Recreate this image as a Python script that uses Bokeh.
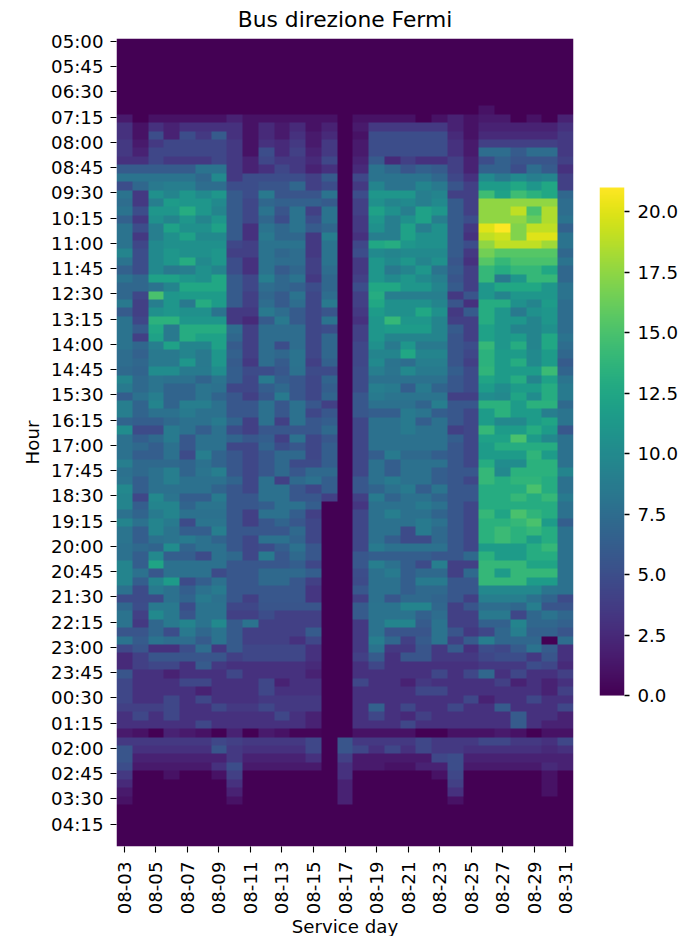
from bokeh.plotting import figure
from bokeh.layouts import row
from bokeh.models import LinearColorMapper, FixedTicker, PrintfTickFormatter, LinearAxis, Range1d
from bokeh.palettes import Viridis256
from bokeh.embed import file_html
from bokeh.resources import INLINE
import numpy as np
import math

DAYS = ["08-%02d" % d for d in range(3, 32)]
HOUR_LABELS = ["05:00","05:45","06:30","07:15","08:00","08:45","09:30","10:15","11:00","11:45","12:30","13:15","14:00","14:45","15:30","16:15","17:00","17:45","18:30","19:15","20:00","20:45","21:30","22:15","23:00","23:45","00:30","01:15","02:00","02:45","03:30","04:15"]
Z = [0]*29

VALUES = [
Z,Z,Z,Z,Z,Z,Z,Z,
[0,0,0,0,0,0,0,0,0,0,0,0,0,0,0,0,0,0,0,0,0,0,0,1,0,0,0,0,0],
[1.5,0,1,1,1,1,1,2,1,1,1,1,1,1,0,1,1,1,1,0,1,2,1,1.5,1.5,0,1,0,2],
[3,1,3,2,3,3,3,3,1,2.5,1.5,2.5,1,2,0,1.5,3.5,3.5,3.5,3.5,3.5,2,1,2,2,2,2,2,3],
[3,1,5,2,5,3.5,6,3,1,2.5,1.5,3,1.5,2.5,0,1,5,5,5,5,5,2.5,1,2.5,2.5,2.5,2.5,2.5,3.5],
[3.5,1.5,3.5,4.5,4.5,4.5,4.5,3.5,1,3,2.5,3.5,1.5,3.5,0,1.5,5,5,5,5,5,3,1.5,4,4,4,4,4,3.5],
[3.5,2,4.5,4.5,4.5,4.5,4.5,3.5,1,5,2.5,4,2,3.5,0,1.5,5,5,5,5,5,3,1.5,7.5,7.5,6,7.5,7.5,3.5],
[3,3,4.5,3.5,3.5,3.5,4.5,3.5,2,4.5,3.5,3.5,2.5,4.5,0,2,6,2.5,4,3,3,4,2,5,6.5,5.5,5.5,5.5,4],
[6,6,6,6,6,8,8,3.5,2,3,4.5,3.5,2,3,0,2.5,8,7,5.5,6.5,6,4,2,6.5,6.5,5,7.5,6,3],
[8,8,8,8,8,7,10,3.5,5,5,5,5,4,6,0,4.5,8,8,8,8,7,4.5,3,10,8.5,10,9,9.5,4],
[5,7,8.5,9,9,7.5,7.5,5,5,5.5,5.5,7,4,5,0,3.5,9.5,8,8,9.5,8.5,5.5,4,11.5,11.5,12.5,11,12.5,4],
[8,3.5,10.5,9.5,11,10,11,6,5,8.5,5.5,5.5,5.5,8,0,5,11,11,11,9,9.5,4,4,14.5,12,14.5,13.5,12.5,7],
[7.5,3.5,9,11.5,11,11,10,6,4.5,7,6.5,6.5,6.5,6,0,4,10.5,9.5,10,9,10,6,4,17.5,17.5,17.5,17.5,17.5,7.5],
[8,5,11,11,13,11,9.5,6,4.5,8,5.5,8,4,8,0,4,12,10.5,9,12,11,6,4,17.5,17.5,19,15,18.5,7.5],
[6.5,3.5,10.5,9.5,11,9.5,11,6,4.5,7,5,8,5,8,0,3.5,11,9,10.5,12,9,6,5,17.5,17.5,17.5,16,18.5,8],
[8,5,9,12,10.5,10.5,12,6,3,8,7,8,6,7,0,3.5,10.5,9,12,9,10.5,6,3.5,20,21,17,19,19,6.5],
[8,3.5,9,10.5,12,10,10,6,3,8.5,7,7,3.5,9,0,3,9,9,12,10.5,10.5,6,3,19,19.5,17,20,20,8],
[8,4.5,10,10.5,10.5,10.5,10.5,4.5,4,8,8,8,3.5,8,0,4.5,12.5,13,11,10.5,10.5,6,5,17.5,19,19,19,18,8],
[9.5,5,10,11,10.5,10.5,11,4,4,8,7,7.5,3.5,8,0,5,10,9.5,10,10,10,6,3.5,16.5,15.5,15.5,15.5,15.5,7],
[8,5,10,11,13,10,11,5,3,8,7.5,7.5,4,8,0,3.5,11,10,11,9.5,10.5,5.5,3,15.5,14,15,15,15,8],
[6.5,5,10,8.5,9,10.5,9.5,5,3,8,6,7,4,7.5,0,3.5,11,8.5,9.5,11,8,6,4,14,13,14,14,12.5,7],
[8,7,12,12,11,10.5,12.5,6,4.5,9,7,8,3.5,7,0,4,11,10,11,10,9,5.5,4,14,8.5,11,14,14,7],
[7,7,8,9.5,12.5,12.5,12.5,6,4.5,7.5,7,6.5,5,7,0,5,12.5,12.5,11,11,9.5,6,4,11,12.5,12.5,12.5,11,8],
[7,4.5,15,11,11.5,11.5,11.5,6,4,7,6,8,4.5,7.5,0,4,13,9,9,9,9,3.5,5.5,11,9.5,11,11,11,8],
[8.5,4,9,11,8.5,13,11.5,6,4,7.5,6,7.5,4.5,8.5,0,4,12.5,10.5,10.5,10.5,9.5,5.5,3,13,13,10.5,9.5,11.5,7.5],
[6,4,10.5,11,10.5,10.5,8,3.5,3.5,8.5,7.5,6,4.5,5.5,0,3.5,11.5,10.5,10.5,12.5,10.5,3.5,6,13,11,8.5,10.5,11,7.5],
[8,4.5,13.5,13.5,11,11,11,3.5,2.5,6,8.5,6,4.5,8,0,3,11,14,11,11,9.5,4,4,13,11,11,9.5,11,7.5],
[8,6,12.5,8.5,13,13,13,7.5,4,7.5,7.5,7.5,4.5,5,0,4,11,11.5,11.5,11.5,9.5,6,4,12,11,9.5,9.5,10.5,7.5],
[8,4,12,8.5,13,12,12,7,4,7.5,7.5,7.5,4.5,7,0,4,11,9.5,9.5,9.5,9.5,5.5,4,12,11,11.5,9.5,12.5,8],
[8,7,9,12,9.5,9.5,12,6,4,7.5,5,7.5,4.5,7,0,4.5,10.5,8.5,11,8.5,8.5,5.5,5,14,11,13,9.5,12.5,7.5],
[7.5,6.5,8.5,8.5,9.5,8.5,11,6.5,4,7.5,7,8,4.5,7,0,4.5,9.5,9.5,12.5,9.5,9.5,5.5,4.5,13.5,11.5,11.5,10,11.5,7],
[7.5,7,8.5,8.5,11,8.5,11,6,3.5,7.5,6,8,4,6.5,0,4.5,10,8,7.5,9,9,5.5,4,13.5,11.5,13,10,11.5,6],
[7.2,6.8,10.2,10.2,8.6,8.6,10.2,6.3,4.8,5,5.7,7.8,4.8,4.8,0,4.8,9,8.1,9.8,8.6,8.6,6.3,4.8,13.7,11.5,11.5,11.5,14.3,6.8],
[9.5,7.2,8.1,7.8,7.8,6.8,8.1,6.3,4.5,8.6,6.3,5.7,4.5,6.8,0,4.8,7.8,7.8,7.8,7.8,7.8,5.7,4.8,12.3,11.5,13,9.5,12,8.1],
[8.6,7.2,8.1,6.8,6.8,8.1,7.8,4.5,4.5,6.3,7.2,5.7,4.5,6.3,0,4.8,9,8.6,6.3,8.6,6.8,5.7,4.8,11.5,10.2,11.5,11.5,13,8.6],
[6.3,7.8,9,6.8,6.8,8.1,6.8,5.7,4,5.7,8.6,5.7,4.5,6.8,0,5.7,8.6,8.1,8.1,8.1,8.1,4,4,10.2,9.8,12.3,10.2,13,8.6],
[9,6.8,9.5,6.8,9,9,7.8,5.7,5.7,7.8,5.7,7.8,5.7,4,0,5.7,7.8,7.8,7.8,6.8,9,5.7,5.7,13.4,13.4,11.5,13.4,13.4,7.2],
[9,6.8,7.8,7.8,8.6,7.8,7.8,5.7,5.7,7.8,5.7,7.8,4.5,5.7,0,5.7,6.3,6.3,8.6,8.1,6.3,5.7,4.5,11.5,13.4,11.5,11.5,9,8.1],
[6.8,6.3,6.3,7.2,7.8,7.8,8.6,6.8,4,7.8,4,7.8,5.7,6.3,0,4.5,7.8,7.8,8.6,6.3,7.8,5.7,4.5,11.5,9.8,9.8,11.5,12.3,8.1],
[10.2,4.8,4.8,8.6,7.8,6.3,7.8,5,4,5.7,5.7,5.7,5.7,7.2,0,4.5,7.8,7.8,8.6,7.8,7.8,4,4.5,14,11.5,11.5,13,11.5,5.7],
[7.8,6.3,7.2,8.6,5.7,7.8,7.8,6.8,5.7,6.3,4,7.8,4.5,5.7,0,4.5,7.8,7.8,7.8,7.8,7.8,6.3,4.5,12,12,15,11.5,9.8,7.8],
[7.8,7.2,6.3,7.8,5.7,7.8,7.8,4.5,4.5,6.8,5,5.7,4.5,6.3,0,4.5,7.8,7.8,7.8,7.8,7.8,5.7,4.5,11.5,13,13,13,13,7.8],
[7.8,6.3,6.3,7.8,4.8,9,6.8,5.7,4.5,5.7,7.2,7.2,4.5,6.3,0,4.5,6.3,8.6,7.2,7.2,6.3,5.7,4.5,11.5,11.5,11.5,13.7,11.5,7.8],
[9,7.2,7.2,7.2,6.8,7.8,6.8,5.7,4.5,5.7,7.2,4.8,4.8,6.3,0,4.5,7.8,6.3,7.8,7.8,7.8,5.7,4.5,13,10.2,10.2,13.4,13.4,7.8],
[7.8,7.2,7.8,9,6.8,8.1,9,5.7,4.5,5.7,7.2,5.7,7.2,7.2,0,4.5,7.8,6.3,7.8,7.8,6.3,5.7,5.7,14,9.8,13.4,13.4,13.4,9.5],
[8.1,6.3,7.8,9,7.8,7.8,7.8,6.8,4.5,7.8,4,7.2,7.8,6.3,0,5.7,7.8,8.6,7.8,7.8,6.3,5.7,4.5,14,13,13.7,13.7,13,7.8],
[9.8,6.3,7.8,7.8,7.8,7.8,6.8,5.7,4.5,7.8,7.8,5.7,4.5,6.3,0,5.7,6.8,7.8,8.6,6.3,8.1,5.7,5.7,13,13,13,15,13,7.8],
[9.5,4.5,9.8,8.1,6.3,6.3,8.6,5.7,5.7,7.8,7.8,5.7,5.7,4,0,4,8.6,6.8,7.8,7.8,6.8,5.7,5.7,13,13,14,13,14,8.6],
[9.5,6.3,9.5,9.5,6.8,8.1,8.1,5.7,5.7,6.3,7.8,7.8,6.3,0,0,3.3,7.8,7.8,7.8,8.6,7.8,5.7,4.5,13,13,13,13,13,7.8],
[7.8,6.8,8.6,9.5,7.8,7.8,7.8,5.7,4,7.8,7.8,6.3,4,0,0,4.5,7.8,9,7.8,7.8,6.8,5.7,4.5,14,12.3,15,13.7,13,7.8],
[9.5,7.8,9.5,8.6,4.8,8.1,8.1,5.7,4,5.7,6.8,5.7,4.5,0,0,4.5,7.8,7.8,7.8,8.6,7.8,5.7,4.5,13.4,13.4,14,15,11.5,6.3],
[8.1,6.3,9.5,8.1,6.3,6.3,9,5.7,5.7,5.7,5.7,7.2,4.5,0,0,4.5,7.8,7.8,4.8,8.6,7.2,5.7,4.5,13.4,14.3,13.4,14,13,7.8],
[8.1,6.3,7.8,8.1,8.6,7.8,6.8,5.7,4.5,7.8,7.8,6.8,4.5,0,0,4.5,7.8,6.3,4.8,4.8,7.2,5.7,4.5,13.4,14.3,13.4,11.5,13,7.8],
[7.8,7.2,6.8,10.2,6.8,7.8,7.8,5.7,4.5,5,6.3,7.8,5.7,0,0,4.5,8.6,7.8,7.8,7.8,7.8,5.7,4.5,11.5,11.5,11.5,13,14,7.8],
[7.8,6.3,9.8,6.3,6.3,4.8,7.8,7.2,4.5,8.6,5.7,7.2,5.7,0,0,5.7,6.3,6.3,6.3,6.3,5.7,5.7,7.2,13.4,11.5,11.5,13,13,7.8],
[9.5,6.3,12.3,7.8,7.8,7.8,7.8,5.7,5.7,5.7,5.7,6.3,4.5,0,0,5.7,9,7.8,6.3,4.8,9,4,4,14,14,14,12.3,12.3,7.8],
[9.5,7.8,5.7,7.8,7.8,7.8,4.8,5.7,5.7,7.2,7.2,7.2,6.3,0,0,5,7.8,8.6,6.3,7.2,7.2,4,7.2,14,11.5,14,14,14,7.8],
[9.5,6.3,9.5,11.5,4.8,6.3,7.8,5.7,5.7,7.2,7.2,5.7,4,0,0,4.8,7.8,7.8,6.3,8.6,8.6,5.7,5.7,14,14,14,11.5,11.5,7.8],
[7.8,4.8,8.6,7.8,6.3,7.8,8.6,5.7,5.7,5.7,5.7,5.7,3.3,0,0,5.7,7.8,7.8,6.3,7.2,7.2,5.7,5.7,9.8,9.8,9.8,9.8,8.1,7.8],
[4.8,4.8,4.8,7.8,6.8,8.6,7.8,5.7,4,5.7,5.7,5.7,3.3,0,0,4,7.8,5.7,7.2,7.2,6.8,5.7,4,9,9,9,7.8,6.8,4.8],
[7,5,8.5,8.5,5,8,8,4.5,4.5,5.5,5.5,5.5,5.5,0,0,6,8,8,9.5,9.5,7,4,5.5,7.5,7.5,7,9,5.5,5.5],
[8,4,10,8.5,5.5,8,8,4,4,5,4,4,4,0,0,6,8,8,8,6.5,7.5,4,4,8.5,8.5,4.5,7,8,7],
[8,3.5,7,8.5,9.5,8,10,6,8,4,4,4,4,0,0,3.5,8,9.5,9.5,6,8,4,4,6.5,6.5,9.5,7,7,6.5],
[5.5,5.5,7,5,8.5,7,8,6,4,4,4,4,6,0,0,3.5,8,5.5,5.5,5.5,8,5.5,3.5,4.5,7,9,6.5,6.5,5.5],
[8,6,8,7.5,7.5,6,8,6,4,4,4,3,4.5,0,0,3.5,9,7,4,6,8,4,6,9,7,7,7,0,7.5],
[4.5,5.5,3,3,5,7.5,3.5,6,4.5,4.5,4.5,4.5,3,0,0,3.5,8,3.5,3.5,5.5,3.5,6,3,5,4.5,6,8,6,3],
[2.5,4,5.5,5.5,5.5,5.5,5.5,4,4.5,4.5,4.5,4.5,3,0,0,4,6,3,5.5,5.5,3.5,3.5,3.5,4.5,5,5,3.5,5.5,3],
[2.5,4,4.5,4.5,3,6,3.5,3,3,3,3,3,2.5,0,0,3,4.5,3,3,3,3,3,3,3.5,3.5,3.5,5,4.5,2.5],
[5.5,3,3,2,3,3,3,4.5,3,3,3,3,2,0,0,3,3,3,3,3,4.5,3,4.5,7,3,4.5,3,3,4],
[4.5,3,3,3,4.5,4.5,3,3,3,4.5,2,3,3,0,0,4.5,3,3,2,3.5,3,3,3,3,4,2,3,2,3],
[4.5,3,3,3,3,2,3,3,3,4.5,3,3,3,0,0,3,3,3,3,4.5,4.5,3,3,3,3,3,3,2,4],
[4.5,3,3,4.5,3,4.5,3,3,3,3.5,3.5,3.5,3.5,0,0,3,3,3,3,3,3,3,4.5,2,3,3,4.5,3,3],
[4,4,4,4.5,3,3,4.5,3.5,3.5,4.5,3.5,3.5,3.5,0,0,3,6.5,3,4.5,3,3,4.5,3,3,6,3,3,3,4.5],
[3,4.5,3,4.5,3,3,3,3,3,3,4.5,3,2,0,0,3,4.5,3,2.5,4,3,3,3,3,3,6,3,3,2],
[3,3,3,3,3,4.5,3,3,3,3,3,3,2,0,0,3,3,3,4.5,3,3,3,3,3,3,6,3,2,2],
[1.5,1,0,2,1.5,1,0,2,0,1.5,1,0.3,0.3,0,0,1,1,1,1,0,0,1,1,1,1.5,1,0,1,1],
[3.5,3.5,3.5,3.5,3.5,3.5,4.5,4,3.5,3.5,3.5,3.5,4.5,0,5.5,3.5,3.5,3.5,3.5,4.5,3.5,3.5,3.5,4.5,4.5,3.5,3.5,3,4.5],
[5.5,3,3,3,3,3,5.5,3.5,3,3,3,3,4.5,0,5.5,4.5,3,4.5,3,4.5,3.5,3.5,3,3,3,3,3,2.5,3],
[5.5,2,2,2,2,2,2,3.5,2,2,2,2,3,0,4,1.5,1.5,1.5,1.5,1.5,4.5,5,2,2,2,2,2,2,2],
[5,1.5,1.5,1.5,1.5,1.5,3,5,1.5,1.5,1.5,1.5,1.5,0,3,1.5,1.5,1,1,2,2,5,1.5,1.5,1.5,1.5,1.5,2.5,2],
[3.5,0,0,1,0,0,1,4,0,0,0,0,0,0,3,0,0,0,0,0,1,4.5,0,0,0,0,0,1,0],
[2.5,0,0,0,0,0,0,3,0,0,0,0,0,0,2,0,0,0,0,0,0,4,0,0,0,0,0,1,0],
[1.5,0,0,0,0,0,0,2,0,0,0,0,0,0,2,0,0,0,0,0,0,3,0,0,0,0,0,1,0],
[1,0,0,0,0,0,0,1,0,0,0,0,0,0,2,0,0,0,0,0,0,1,0,0,0,0,0,0,0],
Z,Z,Z,Z,Z,
]
VMAX = 21
COLORBAR_TICKS = [0, 2.5, 5, 7.5, 10, 12.5, 15, 17.5, 20]

n_rows = len(VALUES)
n_cols = len(DAYS)
assert n_rows == 96 and all(len(r) == n_cols for r in VALUES)

FONT = "DejaVu Sans"
mapper = LinearColorMapper(palette=Viridis256, low=0, high=VMAX)

p = figure(output_backend="svg", toolbar_location=None,
           width=599, height=936, frame_width=457, frame_height=808,
           x_range=(0, n_cols), y_range=(n_rows, 0),
           min_border_left=116, min_border_top=38, min_border_right=26, min_border_bottom=90)
p.image(image=[np.array(VALUES, dtype=float)], x=0, y=0, dw=n_cols, dh=n_rows, color_mapper=mapper)

p.title.text = "Bus direzione Fermi"
p.title.align = "center"
p.title.text_font = FONT
p.title.text_font_size = "21.8px"
p.title.text_font_style = "normal"
p.title.text_color = "#000000"
p.title.vertical_align = "top"
p.title.standoff = 10

p.grid.visible = False
p.outline_line_color = None

xa = p.xaxis[0]
xa.ticker = FixedTicker(ticks=[i + 0.5 for i in range(0, n_cols, 2)])
xa.major_label_overrides = {i + 0.5: DAYS[i] for i in range(0, n_cols, 2)}
xa.major_label_orientation = math.pi / 2
xa.axis_label = "Service day"
ya = p.yaxis[0]
ya.ticker = FixedTicker(ticks=[i * 3 + 0.33 for i in range(len(HOUR_LABELS))])
ya.major_label_overrides = {i * 3 + 0.33: h for i, h in enumerate(HOUR_LABELS)}
ya.axis_label = "Hour"

def style_axis(a):
    a.axis_line_color = None
    a.major_tick_in = 0
    a.major_tick_out = 6
    a.major_tick_line_color = "#000000"
    a.major_tick_line_width = 1.1
    a.minor_tick_line_color = None
    a.major_label_text_font = FONT
    a.major_label_text_font_size = "18.2px"
    a.major_label_text_color = "#000000"
    a.axis_label_text_font = FONT
    a.axis_label_text_font_size = "18.2px"
    a.axis_label_text_font_style = "normal"
    a.axis_label_text_color = "#000000"

style_axis(xa)
style_axis(ya)
xa.major_label_standoff = 9
xa.axis_label_standoff = -1
ya.major_label_standoff = 7
ya.axis_label_standoff = 5

# colour scale as its own narrow panel, same frame height as the heatmap; the range
# extends past 0..VMAX so the gradient only fills the middle part of the frame
cbar = figure(output_backend="svg", toolbar_location=None,
              width=86, height=936, frame_width=25, frame_height=808,
              x_range=Range1d(0, 1), y_range=Range1d(-6.24, 27.16),
              x_axis_location=None, y_axis_location=None,
              min_border_left=0, min_border_top=38, min_border_right=61, min_border_bottom=90)
scale_steps = np.linspace(0, VMAX, 256).reshape(256, 1)
cbar.image(image=[scale_steps], x=0, y=0, dw=1, dh=VMAX, color_mapper=mapper)
cbar.grid.visible = False
cbar.outline_line_color = None
caxis = LinearAxis(ticker=FixedTicker(ticks=COLORBAR_TICKS),
                   formatter=PrintfTickFormatter(format="%.1f"))
style_axis(caxis)
caxis.major_tick_out = 5
caxis.major_tick_line_width = 1.3
caxis.major_label_standoff = 8
cbar.add_layout(caxis, "right")

layout = row(p, cbar, spacing=0)
open("out.html", "w").write(file_html(layout, INLINE))
